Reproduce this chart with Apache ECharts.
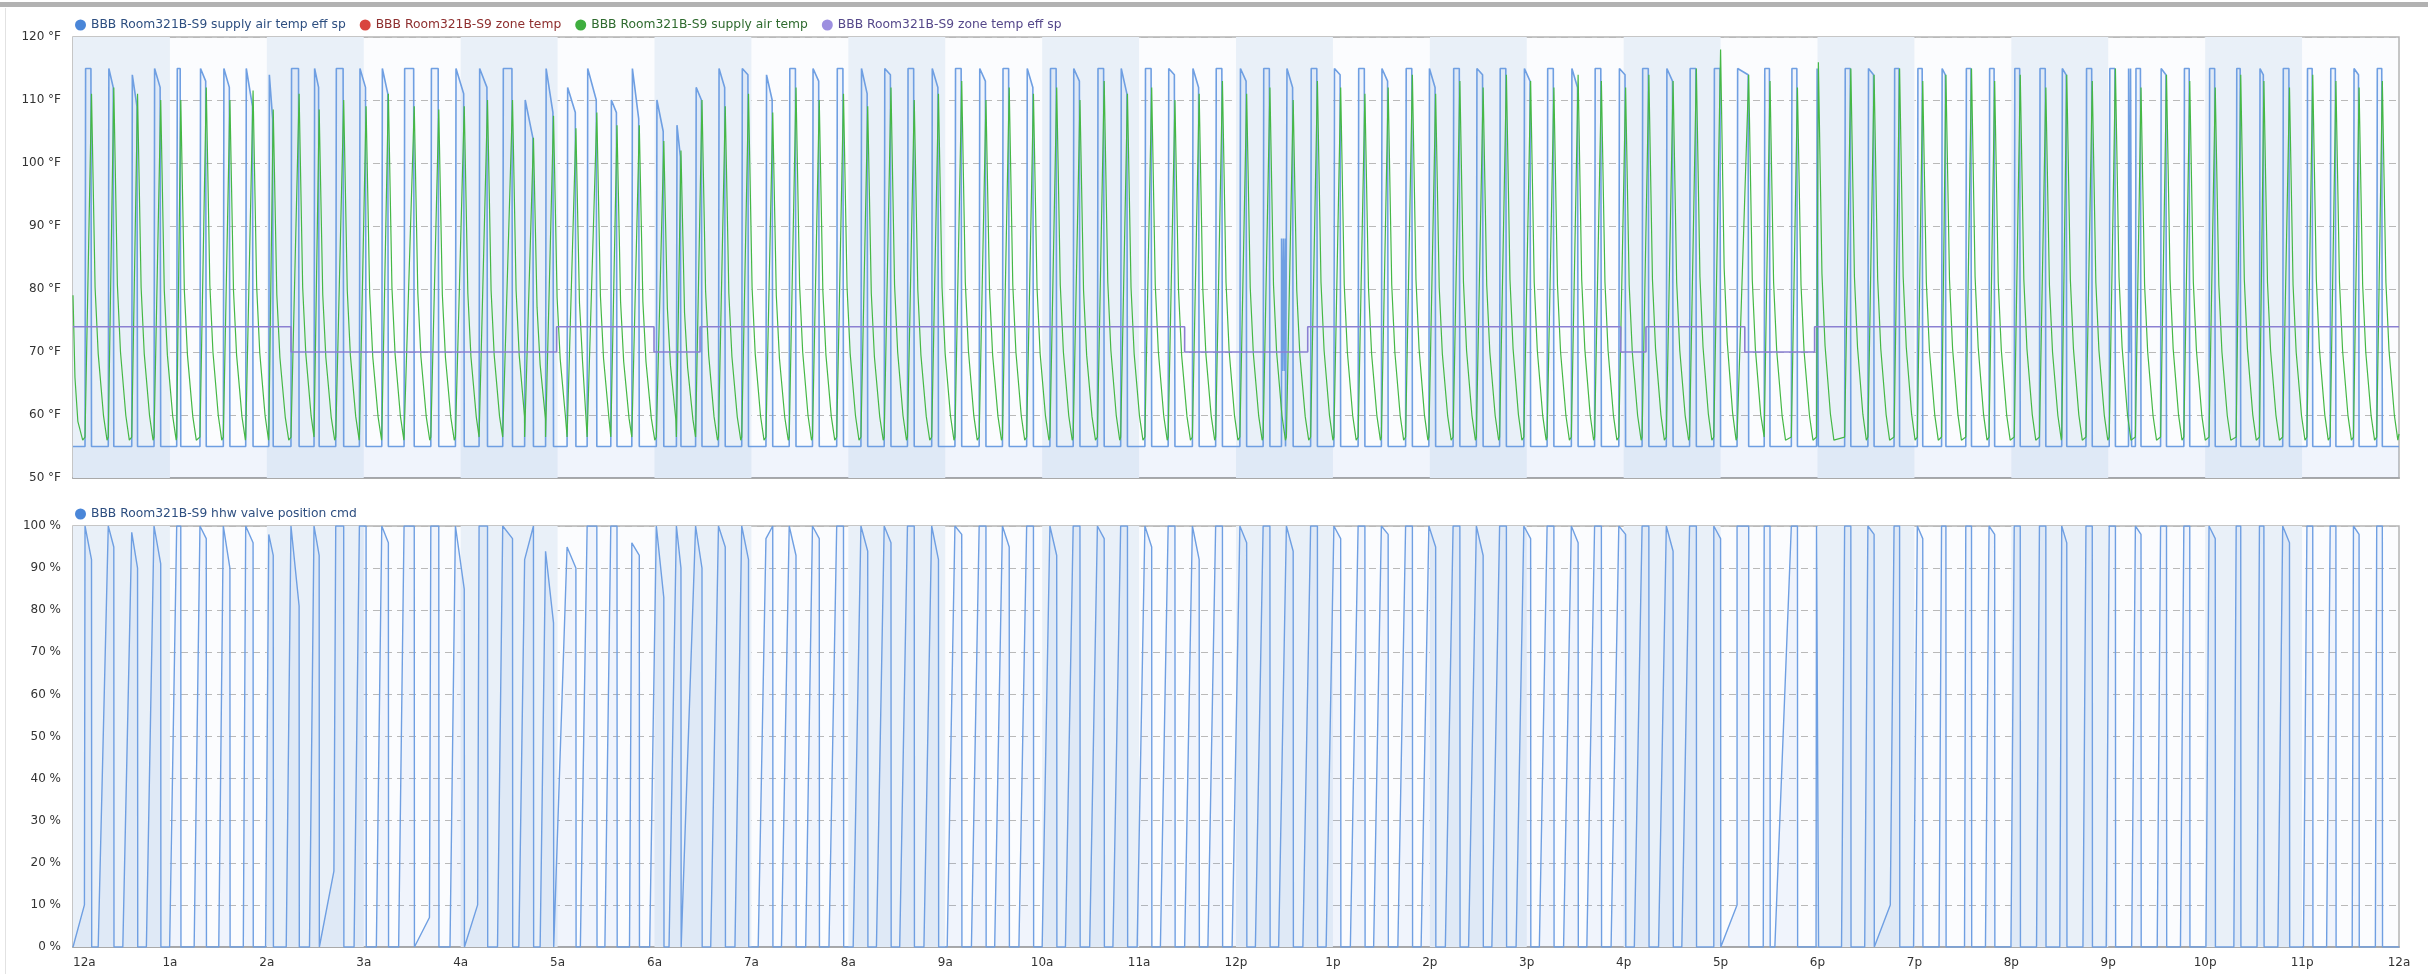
<!DOCTYPE html>
<html>
<head>
<meta charset="utf-8">
<script src="https://cdn.jsdelivr.net/npm/echarts@6/dist/echarts.min.js"></script>
<style>
  html, body { margin: 0; padding: 0; background: #fff; }
  #main { width: 2428px; height: 974px; }
</style>
</head>
<body>
<div id="main"></div>
<script>
// hour labels on the shared time axis
const hourLabels = ['12a','1a','2a','3a','4a','5a','6a','7a','8a','9a','10a','11a',
  '12p','1p','2p','3p','4p','5p','6p','7p','8p','9p','10p','11p','12a'];

// one entry per heating pulse, 7 pulses per row (hours of day)
const pulseOn = [
  0.124, 0.364, 0.606, 0.836, 1.07, 1.31, 1.551,
  1.782, 2.02, 2.249, 2.487, 2.711, 2.955, 3.186,
  3.416, 3.692, 3.946, 4.19, 4.434, 4.66, 4.876,
  5.098, 5.305, 5.549, 5.766, 6.019, 6.226, 6.424,
  6.66, 6.90, 7.15, 7.39, 7.63, 7.88, 8.13,
  8.37, 8.61, 8.86, 9.10, 9.35, 9.59, 9.84,
  10.08, 10.32, 10.57, 10.81, 11.06, 11.30, 11.55,
  11.79, 12.04, 12.28, 12.52, 12.77, 13.01, 13.26,
  13.50, 13.75, 13.99, 14.24, 14.48, 14.72, 14.97,
  15.21, 15.46, 15.70, 15.95, 16.19, 16.44, 16.68,
  16.93, 17.17, 17.45, 17.73, 17.99, 18.28, 18.52,
  18.79, 19.03, 19.28, 19.53, 19.77, 20.03, 20.29,
  20.52, 20.77, 21.01, 21.28, 21.54, 21.78, 22.04,
  22.32, 22.56, 22.80, 23.05, 23.29, 23.53, 23.77
];
const pulseOff = [
  0.191, 0.421, 0.666, 0.905, 1.112, 1.375, 1.619,
  1.858, 2.066, 2.333, 2.54, 2.793, 3.024, 3.254,
  3.521, 3.774, 4.037, 4.277, 4.535, 4.751, 4.958,
  5.189, 5.405, 5.613, 5.843, 6.096, 6.273, 6.49,
  6.73, 6.97, 7.22, 7.46, 7.70, 7.95, 8.20,
  8.44, 8.68, 8.93, 9.17, 9.42, 9.66, 9.91,
  10.15, 10.39, 10.64, 10.88, 11.13, 11.37, 11.62,
  11.86, 12.11, 12.35, 12.59, 12.84, 13.08, 13.33,
  13.57, 13.82, 14.06, 14.31, 14.55, 14.79, 15.04,
  15.28, 15.53, 15.77, 16.02, 16.26, 16.51, 16.75,
  17.00, 17.29, 17.51, 17.793, 18.009, 18.344, 18.584,
  18.847, 19.086, 19.325, 19.589, 19.828, 20.092, 20.356,
  20.572, 20.835, 21.074, 21.338, 21.601, 21.841, 22.104,
  22.367, 22.606, 22.87, 23.11, 23.349, 23.588, 23.828
];
// valve starts opening again (end of the 0 % stretch) and the level it has crept to
const rampStart = [
  0.118, 0.26, 0.514, 0.757, 0.997, 1.25, 1.504,
  1.757, 1.987, 2.2, 2.44, 2.692, 2.9, 3.13,
  3.36, 3.678, 3.89, 4.175, 4.38, 4.6, 4.82,
  4.98, 5.235, 5.488, 5.742, 5.95, 6.15, 6.294,
  6.58, 6.83, 7.07, 7.31, 7.56, 7.80, 8.05,
  8.29, 8.53, 8.78, 9.02, 9.27, 9.51, 9.76,
  10.00, 10.24, 10.49, 10.73, 10.98, 11.22, 11.47,
  11.71, 11.96, 12.20, 12.44, 12.69, 12.93, 13.18,
  13.42, 13.67, 13.91, 14.16, 14.40, 14.64, 14.89,
  15.13, 15.38, 15.62, 15.87, 16.11, 16.36, 16.60,
  16.93, 17.17, 17.44, 17.56, 17.985, 18.248, 18.487,
  18.751, 18.991, 19.254, 19.517, 19.733, 19.996, 20.26,
  20.5, 20.739, 20.979, 21.242, 21.505, 21.745, 22.008,
  22.296, 22.535, 22.75, 23.014, 23.253, 23.517, 23.756
];
const rampLevel = [
  10, 0, 0, 0, 0, 0, 0,
  0, 0, 0, 0, 18, 0, 0,
  0, 7, 0, 10, 0, 0, 0,
  0, 0, 0, 0, 0, 0, 0,
  0, 0, 0, 0, 0, 0, 0,
  0, 0, 0, 0, 0, 0, 0,
  0, 0, 0, 0, 0, 0, 0,
  0, 0, 0, 0, 0, 0, 0,
  0, 0, 0, 0, 0, 0, 0,
  0, 0, 0, 0, 0, 0, 0,
  0, 10, 0, 0, 0, 0, 0,
  10, 0, 0, 0, 0, 0, 0,
  0, 0, 0, 0, 0, 0, 0,
  0, 0, 0, 0, 0, 0, 0
];
const valveTop = [
  100, 100, 98.5, 100, 100, 100, 100,
  100, 98, 100, 100, 100, 100, 100,
  100, 100, 100, 100, 100, 92, 94,
  95, 100, 100, 96, 100, 100, 100,
  100, 100, 97, 100, 100, 100, 100,
  100, 100, 100, 100, 100, 100, 100,
  100, 100, 100, 100, 100, 100, 100,
  100, 100, 100, 100, 100, 100, 100,
  100, 100, 100, 100, 100, 100, 100,
  100, 100, 100, 100, 100, 100, 100,
  100, 100, 100, 100, 100, 100, 100,
  100, 100, 100, 100, 100, 100, 100,
  100, 100, 100, 100, 100, 100, 100,
  100, 100, 100, 100, 100, 100, 100
];
const valveEnd = [
  92, 95, 90, 91, 100, 97, 90,
  96, 93, 81, 93, 100, 100, 96,
  100, 100, 85, 100, 97, 100, 77,
  90, 100, 100, 93, 83, 90, 90,
  95, 92, 100, 93, 97, 100, 94,
  96, 100, 92, 98, 100, 95, 100,
  93, 100, 97, 100, 95, 100, 92,
  100, 96, 100, 94, 100, 97, 100,
  98, 100, 95, 100, 93, 100, 97,
  100, 96, 100, 98, 100, 94, 100,
  97, 100, 100, 100, 100, 100, 98,
  100, 97, 100, 100, 98, 100, 100,
  96, 100, 100, 98, 100, 100, 97,
  100, 100, 96, 100, 100, 98, 100
];
// supply air temp eff sp level at start / end of each pulse
const spTop = [
  115, 115, 114, 115, 115, 115, 115,
  115, 114, 115, 115, 115, 115, 115,
  115, 115, 115, 115, 115, 110, 115,
  112, 115, 110, 115, 110, 106, 112,
  115, 115, 114, 115, 115, 115, 115,
  115, 115, 115, 115, 115, 115, 115,
  115, 115, 115, 115, 115, 115, 115,
  115, 115, 115, 115, 115, 115, 115,
  115, 115, 115, 115, 115, 115, 115,
  115, 115, 115, 115, 115, 115, 115,
  115, 115, 115, 115, 115, 115, 115,
  115, 115, 115, 115, 115, 115, 115,
  115, 115, 115, 115, 115, 115, 115,
  115, 115, 115, 115, 115, 115, 115
];
const spEnd = [
  115, 112, 109, 112, 115, 113, 112,
  109, 107, 115, 112, 115, 112, 111,
  115, 115, 111, 112, 115, 104, 108,
  108, 110, 108, 107, 105, 101, 110,
  112, 114, 110, 115, 113, 115, 111,
  114, 115, 112, 115, 113, 115, 112,
  115, 113, 115, 111, 115, 114, 112,
  115, 113, 115, 112, 115, 114, 115,
  113, 115, 112, 115, 114, 115, 113,
  115, 112, 115, 114, 115, 113, 115,
  115, 114, 115, 115, 115, 115, 114,
  115, 115, 114, 115, 115, 115, 115,
  114, 115, 115, 115, 114, 115, 115,
  115, 114, 115, 115, 115, 114, 115
];
// supply air temp peak reached in each pulse
const satPeak = [
  111, 112, 111, 110, 110, 112, 110,
  111.5, 108.5, 111, 108.5, 110, 109, 111,
  109, 108.5, 109, 110, 110, 104, 107.5,
  105.5, 108, 106, 106, 103.5, 102, 110,
  109, 111, 108, 112, 110, 111, 109,
  112, 110, 111, 113, 110, 112, 111,
  112, 110, 113, 111, 112, 110, 111,
  113, 111, 112, 110, 113, 112, 111,
  112, 114, 111, 113, 112, 114, 113,
  112, 114, 113, 112, 114, 113, 115,
  118, 114, 113, 112, 116, 115, 114,
  115, 113, 114, 115, 113, 114, 112,
  114, 113, 115, 112, 114, 113, 112,
  114, 113, 112, 114, 113, 112, 113
];
// cool-down of the supply air after a pulse (hours after peak, share of rise left)
const satDecayDt = [0.037, 0.069, 0.124, 0.16];
const satDecayFrac = [0.44, 0.25, 0.07, 0];
const satStart = [[0, 79], [0.02, 66], [0.05, 59], [0.1, 56]];

// short bursts in the eff sp trace
const spBurstT = [12.469, 12.47, 12.48, 12.49, 12.50, 12.51, 12.511,
  21.209, 21.21, 21.22, 21.23, 21.24, 21.241];
const spBurstV = [55, 88, 67, 88, 67, 88, 55,
  55, 115, 70, 115, 70, 55];

// zone temp eff sp steps
const zoneSpTimes = [0, 2.25, 4.99, 5.995, 6.47, 11.47, 12.74, 15.97, 16.23, 17.25, 17.97, 24];
const zoneSpLevels = [74, 70, 74, 70, 74, 70, 74, 70, 74, 70, 74, 74];

const NAME_SP = 'BBB Room321B-S9 supply air temp eff sp';
const NAME_ZT = 'BBB Room321B-S9 zone temp';
const NAME_SAT = 'BBB Room321B-S9 supply air temp';
const NAME_ZSP = 'BBB Room321B-S9 zone temp eff sp';
const NAME_VLV = 'BBB Room321B-S9 hhw valve position cmd';

let spData = [[0, 55]];
const valveData = [[0, 0]];
const satData = satStart.slice();
const SAT_BASE = 56;
for (let i = 0; i < pulseOn.length; i++) {
  const on = pulseOn[i], off = pulseOff[i];
  spData.push([on, 55], [on + 0.006, spTop[i]], [off - 0.006, spEnd[i]], [off, 55]);
  valveData.push([rampStart[i], rampLevel[i]], [on, valveTop[i]], [off, valveEnd[i]], [off + 0.002, 0]);
  satData.push([on, SAT_BASE + 0.5], [off, satPeak[i]]);
  const next = i + 1 < pulseOn.length ? pulseOn[i + 1] : 24;
  for (let k = 0; k < satDecayDt.length; k++) {
    const t = off + satDecayDt[k];
    if (t < next) satData.push([t, SAT_BASE + (satPeak[i] - SAT_BASE) * satDecayFrac[k]]);
  }
}
spBurstT.forEach((t, i) => spData.push([t, spBurstV[i]]));
spData.push([24, 55]);
// keep the trace in time order (stable for equal times)
spData = spData.map((p, i) => [p[0], p[1], i]).sort((a, b) => a[0] - b[0] || a[2] - b[2]).map(p => [p[0], p[1]]);
valveData.push([24, 0]);
satData.push([24, 57]);

const zoneSpData = zoneSpTimes.map((t, i) => [t, zoneSpLevels[i]]);

// alternating hour bands
const bands = [];
for (let h = 0; h < 24; h += 2) bands.push([{ xAxis: h }, { xAxis: h + 1 }]);

const FONT = 'DejaVu Sans';
const axisLabel = { color: '#333', fontFamily: FONT, fontSize: 12 };

const chart = echarts.init(document.getElementById('main'));
chart.setOption({
  animation: false,
  backgroundColor: '#fff',
  graphic: [
    { type: 'rect', shape: { x: 0, y: 2, width: 2428, height: 5 }, style: { fill: '#b2b2b2' } },
    { type: 'rect', shape: { x: 5, y: 8, width: 1, height: 966 }, style: { fill: '#e2e2e2' } }
  ],
  legend: [
    {
      left: 70, top: 14, itemWidth: 11, itemHeight: 11, itemGap: 14, icon: 'circle',
      textStyle: { fontFamily: FONT, fontSize: 12.3 },
      data: [
        { name: NAME_SP, textStyle: { color: '#2e4f80' } },
        { name: NAME_ZT, textStyle: { color: '#8e2f2f' } },
        { name: NAME_SAT, textStyle: { color: '#2f6b2f' } },
        { name: NAME_ZSP, textStyle: { color: '#55488a' } }
      ]
    },
    {
      left: 70, top: 503, itemWidth: 11, itemHeight: 11, icon: 'circle',
      textStyle: { fontFamily: FONT, fontSize: 12.3, color: '#2e4f80' },
      data: [NAME_VLV]
    }
  ],
  grid: [
    { left: 73, right: 29, top: 37, height: 441, show: true, backgroundColor: '#fbfcfe', borderColor: '#b4b4b4', borderWidth: 1.5 },
    { left: 73, right: 29, top: 526, height: 421, show: true, backgroundColor: '#fbfcfe', borderColor: '#b4b4b4', borderWidth: 1.5 }
  ],
  xAxis: [
    {
      type: 'value', gridIndex: 0, min: 0, max: 24, interval: 1,
      axisLine: { show: true, lineStyle: { color: '#a9a9a9', width: 2 } },
      axisTick: { show: false }, axisLabel: { show: false }, splitLine: { show: false }
    },
    {
      type: 'value', gridIndex: 1, min: 0, max: 24, interval: 1,
      axisLine: { show: true, lineStyle: { color: '#a9a9a9', width: 2 } },
      axisTick: { show: false }, splitLine: { show: false },
      axisLabel: Object.assign({ margin: 10, alignMinLabel: 'left', formatter: v => hourLabels[v] }, axisLabel)
    }
  ],
  yAxis: [
    {
      type: 'value', gridIndex: 0, min: 50, max: 120, interval: 10,
      axisLine: { show: false }, axisTick: { show: false },
      axisLabel: Object.assign({ margin: 12, formatter: v => v + ' °F' }, axisLabel),
      splitLine: { lineStyle: { color: '#b9b9b9', type: [7, 5] } }
    },
    {
      type: 'value', gridIndex: 1, min: 0, max: 100, interval: 10,
      axisLine: { show: false }, axisTick: { show: false },
      axisLabel: Object.assign({ margin: 12, formatter: v => v + ' %' }, axisLabel),
      splitLine: { lineStyle: { color: '#b9b9b9', type: [7, 5] } }
    }
  ],
  series: [
    {
      name: NAME_SP, type: 'line', xAxisIndex: 0, yAxisIndex: 0, data: spData,
      showSymbol: false, z: 3,
      itemStyle: { color: '#4a86d8' },
      lineStyle: { color: '#6f9fe2', width: 1.6 },
      areaStyle: { color: 'rgba(74,134,216,0.09)', origin: 'start' },
      markArea: { silent: true, itemStyle: { color: '#e9f0f8' }, data: bands }
    },
    {
      name: NAME_ZT, type: 'line', xAxisIndex: 0, yAxisIndex: 0, data: [],
      showSymbol: false, itemStyle: { color: '#d9453f' }
    },
    {
      name: NAME_SAT, type: 'line', xAxisIndex: 0, yAxisIndex: 0, data: satData,
      showSymbol: false, z: 4,
      itemStyle: { color: '#3fae3f' },
      lineStyle: { color: '#45b845', width: 1.2 }
    },
    {
      name: NAME_ZSP, type: 'line', xAxisIndex: 0, yAxisIndex: 0, data: zoneSpData,
      step: 'end', showSymbol: false, z: 5,
      itemStyle: { color: '#9d8fe0' },
      lineStyle: { color: '#8b80d2', width: 1.6 }
    },
    {
      name: NAME_VLV, type: 'line', xAxisIndex: 1, yAxisIndex: 1, data: valveData,
      showSymbol: false, z: 3,
      itemStyle: { color: '#4a86d8' },
      lineStyle: { color: '#6f9fe2', width: 1.4 },
      areaStyle: { color: 'rgba(74,134,216,0.09)', origin: 'start' },
      markArea: { silent: true, itemStyle: { color: '#e9f0f8' }, data: bands }
    }
  ]
});
</script>
</body>
</html>
